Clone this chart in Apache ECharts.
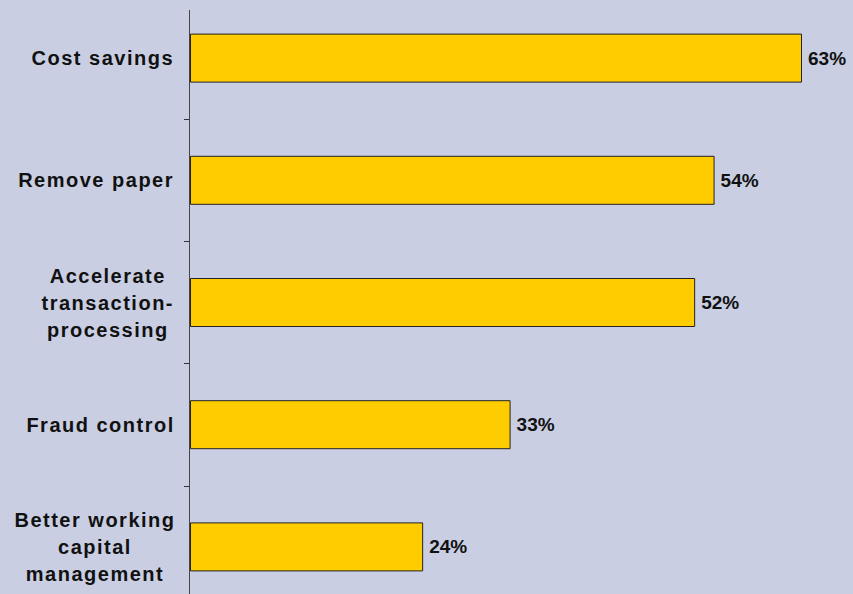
<!DOCTYPE html>
<html>
<head>
<meta charset="utf-8">
<script src="https://cdn.jsdelivr.net/npm/echarts@6/dist/echarts.min.js"></script>
<style>
  html, body { margin: 0; padding: 0; background: #C9CEE3; }
  #chart { width: 853px; height: 594px; }
  #chart text[text-anchor="middle"] { letter-spacing: 1.5px; }
</style>
</head>
<body>
<div id="chart"></div>
<script>
const categories = [
  ['Cost savings'],
  ['Remove paper'],
  ['Accelerate', 'transaction-', 'processing'],
  ['Fraud control'],
  ['Better working', 'capital', 'management']
];
const values = [63, 54, 52, 33, 24];

const catNames = categories.map(c => c.join('\n'));
const chart = echarts.init(document.getElementById('chart'), null, { renderer: 'svg' });
chart.setOption({
  backgroundColor: '#C9CEE3',
  animation: false,
  grid: { left: 190, width: 680, top: -3, height: 611, containLabel: false, outerBoundsMode: 'none' },
  xAxis: { type: 'value', min: 0, max: 70, show: false },
  yAxis: {
    type: 'category',
    inverse: true,
    data: catNames,
    axisLine: { show: false },
    axisTick: { show: true, length: 6, lineStyle: { color: '#333', width: 1 } },
    axisLabel: {
      margin: 25,
      align: 'right',
      formatter: function (v) {
        return v.split('\n').map(s => '{c|' + s + '}').join('\n');
      },
      rich: {
        c: {
          align: 'center',
          fontFamily: 'Liberation Sans, Arial, sans-serif',
          fontWeight: 'bold',
          fontSize: 20,
          lineHeight: 27,
          color: '#111'
        }
      }
    }
  },
  graphic: [{
    type: 'line',
    shape: { x1: 189.5, y1: 10, x2: 189.5, y2: 594 },
    style: { stroke: '#444', lineWidth: 1 },
    z: 10
  }],
  series: [{
    type: 'bar',
    data: values,
    barWidth: 49,
    itemStyle: { color: '#FFCC00', borderColor: '#222', borderWidth: 1 },
    label: {
      show: true,
      position: 'right',
      distance: 6,
      formatter: '{c}%',
      fontFamily: 'Liberation Sans, Arial, sans-serif',
      fontWeight: 'bold',
      fontSize: 19,
      color: '#111'
    }
  }]
});
</script>
</body>
</html>
